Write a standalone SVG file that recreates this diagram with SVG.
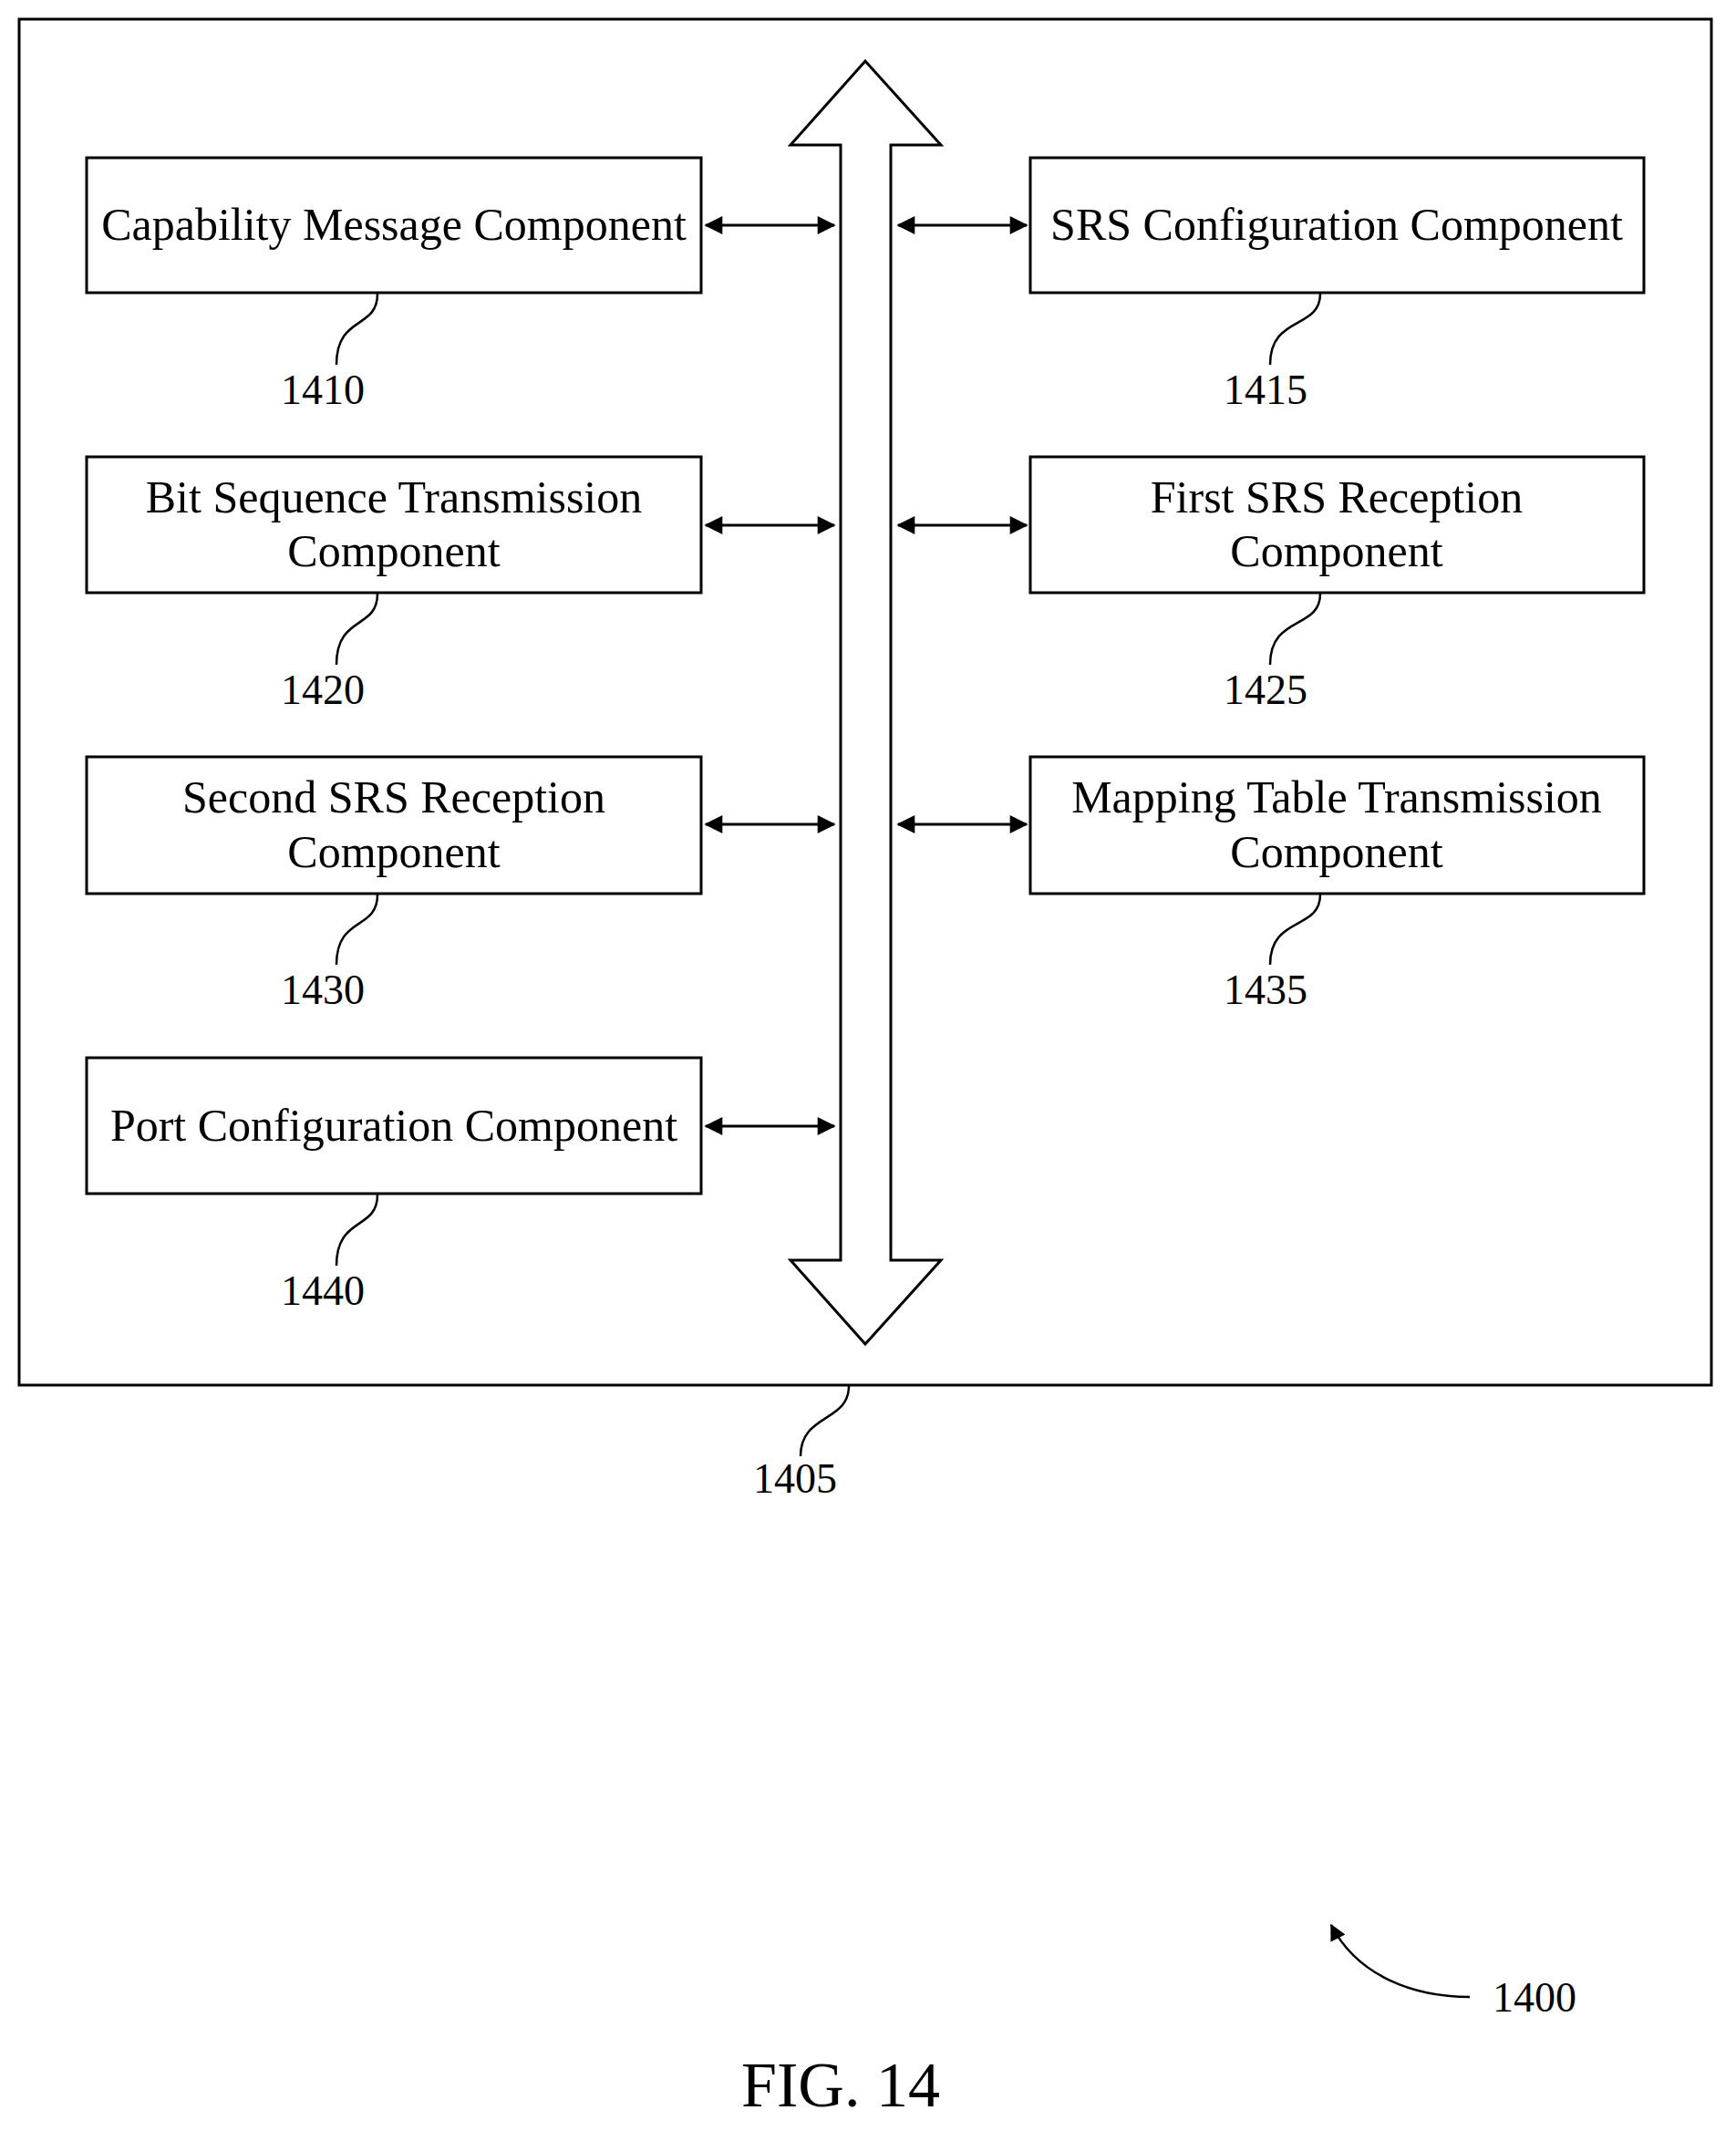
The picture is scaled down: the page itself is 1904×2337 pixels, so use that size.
<svg xmlns="http://www.w3.org/2000/svg" width="1904" height="2337" viewBox="0 0 1904 2337">
<style>
.b{fill:#fff;stroke:#000;stroke-width:3}
.t{font-family:"Liberation Serif",serif;font-size:50px;text-anchor:middle;fill:#000}
.n{font-family:"Liberation Serif",serif;font-size:46px;text-anchor:middle;fill:#000}
.l{fill:none;stroke:#000;stroke-width:2.5}
.a{fill:none;stroke:#000;stroke-width:3;marker-start:url(#h);marker-end:url(#h)}
</style>
<defs><marker id="h" viewBox="0 0 12 12" refX="11" refY="6" markerWidth="22" markerHeight="20" markerUnits="userSpaceOnUse" orient="auto-start-reverse"><path d="M0,0 L12,6 L0,12 z" fill="#000"/></marker>
<marker id="h2" viewBox="0 0 12 12" refX="11" refY="6" markerWidth="18" markerHeight="18" markerUnits="userSpaceOnUse" orient="auto"><path d="M0,0 L12,6 L0,12 z" fill="#000"/></marker></defs>
<g id="n1405"><rect class="b" x="21" y="21" width="1856" height="1498"/>
<path class="l" d="M931,1520 C931,1560 878,1550 878,1597"/><text class="n" x="872" y="1637">1405</text></g>
<g id="bus"><path class="b" d="M922,1382 L922,159 L867,159 L949,67 L1032,159 L977,159 L977,1382 L1032,1382 L949,1474 L867,1382 Z"/></g>
<g id="n1410"><rect class="b" x="95" y="173" width="674" height="148"/><text class="t" x="432" y="263">Capability Message Component</text><path class="l" d="M414,322 C414,362 369,345 369,400"/><text class="n" x="354" y="443">1410</text></g>
<g id="n1415"><rect class="b" x="1130" y="173" width="673" height="148"/><text class="t" x="1466" y="263">SRS Configuration Component</text><path class="l" d="M1448,322 C1448,362 1393,345 1393,400"/><text class="n" x="1388" y="443">1415</text></g>
<g id="n1420"><rect class="b" x="95" y="501" width="674" height="149"/><text class="t" x="432" y="562">Bit Sequence Transmission</text><text class="t" x="432" y="621">Component</text><path class="l" d="M414,651 C414,691 369,674 369,729"/><text class="n" x="354" y="772">1420</text></g>
<g id="n1425"><rect class="b" x="1130" y="501" width="673" height="149"/><text class="t" x="1466" y="562">First SRS Reception</text><text class="t" x="1466" y="621">Component</text><path class="l" d="M1448,651 C1448,691 1393,674 1393,729"/><text class="n" x="1388" y="772">1425</text></g>
<g id="n1430"><rect class="b" x="95" y="830" width="674" height="150"/><text class="t" x="432" y="891">Second SRS Reception</text><text class="t" x="432" y="951">Component</text><path class="l" d="M414,981 C414,1021 369,1004 369,1058"/><text class="n" x="354" y="1101">1430</text></g>
<g id="n1435"><rect class="b" x="1130" y="830" width="673" height="150"/><text class="t" x="1466" y="891">Mapping Table Transmission</text><text class="t" x="1466" y="951">Component</text><path class="l" d="M1448,981 C1448,1021 1393,1004 1393,1058"/><text class="n" x="1388" y="1101">1435</text></g>
<g id="n1440"><rect class="b" x="95" y="1160" width="674" height="149"/><text class="t" x="432" y="1251">Port Configuration Component</text><path class="l" d="M414,1310 C414,1350 369,1333 369,1388"/><text class="n" x="354" y="1431">1440</text></g>
<g id="connectors">
<path class="a" d="M774,247 L915,247"/><path class="a" d="M985,247 L1126,247"/>
<path class="a" d="M774,576 L915,576"/><path class="a" d="M985,576 L1126,576"/>
<path class="a" d="M774,904 L915,904"/><path class="a" d="M985,904 L1126,904"/>
<path class="a" d="M774,1235 L915,1235"/>
<path class="l" d="M1612,2190 C1540,2190 1485,2160 1460,2111" marker-end="url(#h2)"/>
</g>
<text class="n" x="1683" y="2206">1400</text>
<text class="t" x="922" y="2310" style="font-size:70px">FIG. 14</text>
</svg>
